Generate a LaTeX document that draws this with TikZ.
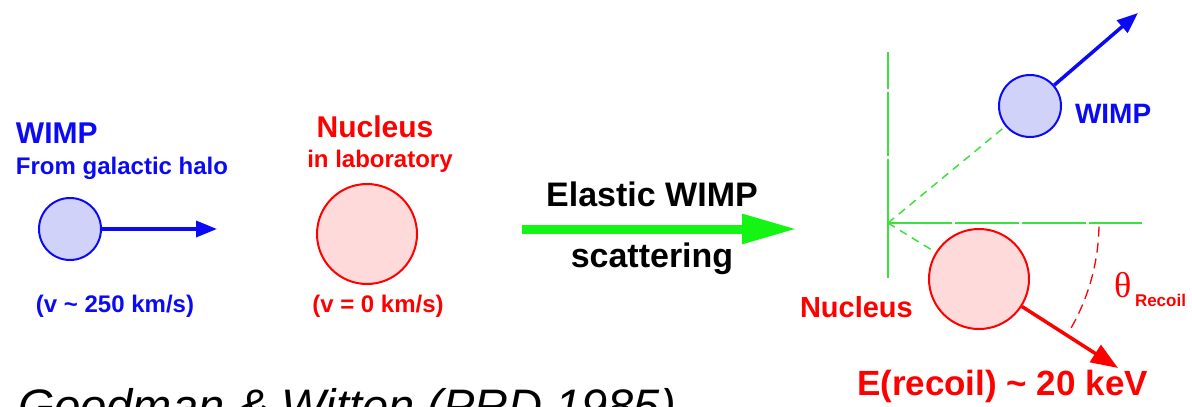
\documentclass[tikz,border=0pt]{standalone}
\usepackage{fontspec}
\setmainfont{Liberation Sans}
\newfontfamily\serifgreek{Liberation Serif}
\usetikzlibrary{arrows.meta}
\newcommand\myfs[1]{\fontsize{#1pt}{#1pt}\selectfont}
\definecolor{wblue}{RGB}{10,10,245}
\definecolor{wfill}{RGB}{208,210,250}
\definecolor{nred}{RGB}{255,0,0}
\definecolor{nfill}{RGB}{255,218,218}
\definecolor{agreen}{RGB}{20,245,20}
\definecolor{axgreen}{RGB}{60,225,60}
\tikzset{
  ball/.style={circle, draw, line width=2pt, inner sep=0pt},
  wimpball/.style={ball, draw=wblue, fill=wfill, minimum size=62pt},
  nucball/.style={ball, draw=nred, fill=nfill, minimum size=100pt},
  txt/.style={inner sep=0pt, outer sep=0pt},
  bluearrow/.style={draw=wblue, line width=3.5pt, -{Triangle[length=21pt,width=16pt]}},
  redarrow/.style={draw=nred, line width=3.5pt, -{Triangle[length=27pt,width=20pt]}},
  axisline/.style={draw=axgreen, line width=1.5pt, dash pattern=on 64pt off 3pt},
  guide/.style={draw=axgreen, line width=1.5pt, dash pattern=on 8pt off 6pt},
  anglearc/.style={draw=nred, line width=1.3pt, dash pattern=on 10pt off 6pt},
}
\begin{document}
\begin{tikzpicture}[x=1pt,y=-1pt]
\useasboundingbox (0,0) rectangle (1192,407);
% left: WIMP
\node[txt, anchor=base west, text=wblue, font=\myfs{30}\bfseries] (wimpL) at (16,143) {WIMP};
\node[txt, anchor=base west, text=wblue, font=\myfs{24}\bfseries] (haloL) at (16,174) {From galactic halo};
\node[wimpball] (wl) at (70,229) {};
\coordinate (wlTip) at (217,229);
\draw[bluearrow] (wl) -- (wlTip);
\node[txt, anchor=base, text=wblue, font=\myfs{24}\bfseries] (vL) at (115,312) {(v \textasciitilde{} 250 km/s)};
% middle: nucleus
\node[txt, anchor=base, text=nred, font=\myfs{30}\bfseries] (nucL) at (375,137.5) {Nucleus};
\node[txt, anchor=base, text=nred, font=\myfs{24}\bfseries] (labL) at (380,167) {in laboratory};
\node[nucball] (nl) at (367,234) {};
\node[txt, anchor=base, text=nred, font=\myfs{24}\bfseries] (v0) at (378,312) {(v = 0 km/s)};
% scattering arrow
\coordinate (gS) at (522,229);
\coordinate (gE) at (797,229);
\draw[draw=agreen, line width=9pt, -{Triangle[length=55pt,width=28pt]}] (gS) -- (gE);
\node[txt, anchor=base, font=\myfs{34}\bfseries] (elastic) at (652,206) {Elastic WIMP};
\node[txt, anchor=base, font=\myfs{34}\bfseries] (scat) at (652,267) {scattering};
% right: after scattering
\coordinate (o) at (888,223);
\coordinate (axT) at (888,52);
\coordinate (axB) at (888,278);
\coordinate (axR) at (1142,223);
\draw[axisline] (o) -- (axT);
\draw[axisline] (o) -- (axB);
\draw[axisline] (o) -- (axR);
\node[wimpball] (wr) at (1030,106) {};
\node[nucball] (nr) at (979,279) {};
\draw[guide] (o) -- (wr);
\draw[guide] (o) -- (nr);
\coordinate (wrTip) at (1138,13);
\draw[bluearrow] (wr) -- (wrTip);
\node[txt, anchor=base west, text=wblue, font=\myfs{28}\bfseries] (wimpR) at (1075,123) {WIMP};
\coordinate (nrTip) at (1118,368);
\draw[redarrow] (nr) -- (nrTip);
\node[txt, anchor=base west, text=nred, font=\myfs{29}\bfseries] (nucR) at (800,317) {Nucleus};
\draw[anglearc] (o) ++(-1:211pt) arc[start angle=-1, end angle=-31, radius=211pt];
\node[txt, anchor=base west, text=nred, font=\serifgreek\myfs{36}] (theta) at (1114,297) {θ};
\node[txt, anchor=base west, text=nred, font=\myfs{17}\bfseries] (recoil) at (1135,306) {Recoil};
\node[txt, anchor=base west, text=nred, font=\myfs{35}\bfseries] (erec) at (857,395) {E(recoil) \textasciitilde{} 20 keV};
% reference
\node[txt, anchor=base west, font=\myfs{47}\itshape] (ref) at (18,422) {Goodman \& Witten (PRD 1985)};
\end{tikzpicture}
\end{document}
